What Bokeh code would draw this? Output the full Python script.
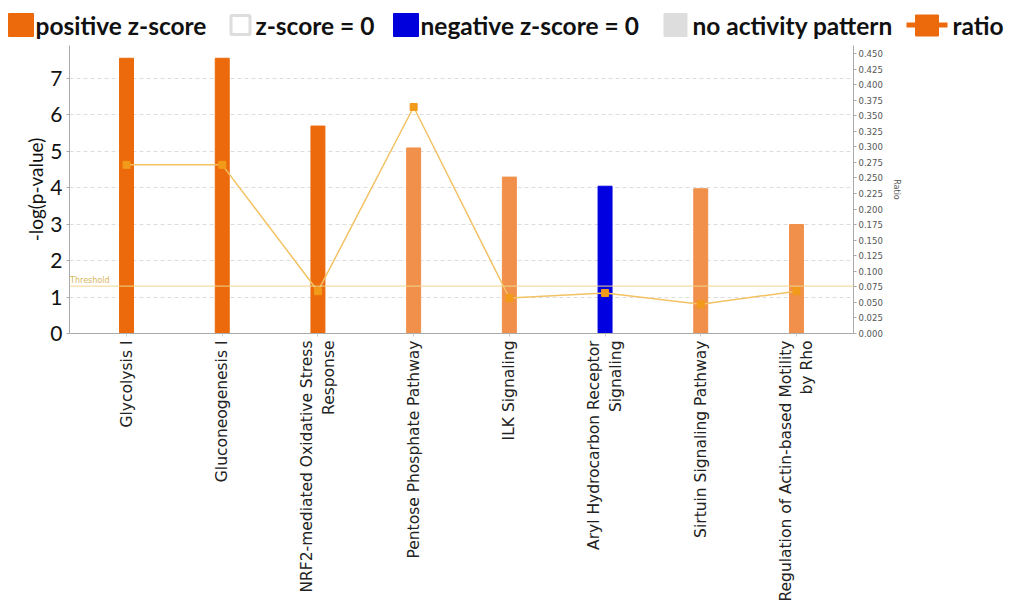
import numpy as np
from bokeh.plotting import figure
from bokeh.models import (Range1d, LinearAxis, FixedTicker, Span, Label,
                          ColumnDataSource, NumeralTickFormatter)
from bokeh.layouts import column
from bokeh.embed import file_html
from bokeh.resources import INLINE
from bokeh.core.properties import value

# ---------------- data ----------------
pathways = [
    "Glycolysis I",
    "Gluconeogenesis I",
    "NRF2-mediated Oxidative Stress\nResponse",
    "Pentose Phosphate Pathway",
    "ILK Signaling",
    "Aryl Hydrocarbon Receptor\nSignaling",
    "Sirtuin Signaling Pathway",
    "Regulation of Actin-based Motility\nby Rho",
]
neg_log_p = [7.55, 7.55, 5.69, 5.09, 4.29, 4.04, 3.97, 2.99]
ratio = [0.271, 0.271, 0.068, 0.364, 0.057, 0.065, 0.047, 0.068]
z_class = ["positive", "positive", "positive", "positive_low",
           "positive_low", "negative", "positive_low", "positive_low"]
threshold = 1.3
left_ticks = [0, 1, 2, 3, 4, 5, 6, 7]
grid_ticks = [1, 2, 3, 4, 5, 6, 7]
ratio_ticks = [0.000, 0.025, 0.050, 0.075, 0.100, 0.125, 0.150, 0.175, 0.200,
               0.225, 0.250, 0.275, 0.300, 0.325, 0.350, 0.375, 0.400, 0.425, 0.450]
legend_labels = ["positive z-score", "z-score = 0", "negative z-score = 0",
                 "no activity pattern", "ratio"]

# ---------------- styles ----------------
class_colors = {"positive": "#EC6A0C", "positive_low": "#F0904A", "negative": "#0000E0"}
bar_colors = [class_colors[c] for c in z_class]
xs = list(range(len(pathways)))
W = 1013

# ---------------- legend strip ----------------
leg = figure(width=W, height=40, x_range=Range1d(0, W), y_range=Range1d(40, 0),
             output_backend="svg", toolbar_location=None, min_border=0)
leg.frame_align = False
leg.axis.visible = False
leg.grid.visible = False
leg.outline_line_color = None

sw_x = [20.5, 240, 405.5, 675]
sw_fill = ["#EC6A0C", "#FFFFFF", "#0000DD", "#DDDDDD"]
sw_line = ["#EC6A0C", "#DDDDDD", "#0000DD", "#DDDDDD"]
leg.rect(x=sw_x, y=[24.5] * 4, width=[25, 19, 25, 23], height=[23, 19, 23, 23],
         fill_color=sw_fill, line_color=sw_line, line_width=[1, 3, 1, 1])
leg.line(x=[906, 947], y=[24.5, 24.5], line_color="#EC6A0C", line_width=5)
leg.rect(x=[926.5], y=[25], width=[23], height=[21], fill_color="#EC6A0C", line_color="#EC6A0C")
tx = [35, 255, 420, 692, 952]
leg.text(x=tx, y=[25] * 5, text=legend_labels, text_font=value("Lato"),
         text_font_style="bold", text_font_size="24.5px", text_baseline="middle",
         text_color="#111111")

# ---------------- main chart ----------------
p = figure(width=W, height=576, x_range=Range1d(-0.596, 7.596), y_range=Range1d(0, 7.9),
           output_backend="svg", toolbar_location=None,
           min_border_left=69, min_border_right=W - 853, min_border_top=5, min_border_bottom=283)
p.frame_align = False
p.extra_y_ranges = {"ratio": Range1d(0, 0.4628)}
p.outline_line_color = None
p.background_fill_color = "white"

src = ColumnDataSource(dict(x=xs, top=neg_log_p, color=bar_colors, ratio=ratio))
p.vbar(x="x", top="top", width=0.146, fill_color="color", line_color="color", source=src)

p.add_layout(Span(location=threshold, dimension="width", line_color="#EFD58A", line_width=1))
p.add_layout(Label(x=-0.59, y=threshold, y_offset=1, text="Threshold", text_font_size="8px",
                   text_color="#D8B55A", text_font="DejaVu Sans"))

p.line(x="x", y="ratio", source=src, y_range_name="ratio", line_color="#F2C263", line_width=1.5)
p.scatter(x="x", y="ratio", source=src, y_range_name="ratio", marker="square", size=7,
          fill_color="#F29A1A", line_color="#F29A1A")

# grid
p.xgrid.visible = False
p.ygrid.ticker = FixedTicker(ticks=grid_ticks)
p.ygrid.grid_line_color = "#DDDDDD"
p.ygrid.grid_line_dash = "4 3"

# left axis
ya = p.yaxis[0]
ya.ticker = FixedTicker(ticks=left_ticks)
ya.axis_label = "-log(p-value)"
ya.axis_label_text_font = "Lato"
ya.axis_label_text_font_style = "normal"
ya.axis_label_text_font_size = "19px"
ya.axis_label_text_color = "#111111"
ya.major_label_text_font = "Lato"
ya.major_label_text_font_size = "21px"
ya.major_label_text_color = "#111111"
ya.axis_line_color = "#AAAAAA"
ya.major_tick_line_color = "#AAAAAA"
ya.major_tick_out = 3
ya.major_tick_in = 0
ya.minor_tick_line_color = None
ya.major_label_standoff = 4
ya.axis_label_standoff = 0

# bottom axis
xa = p.xaxis[0]
xa.ticker = FixedTicker(ticks=xs)
xa.major_label_overrides = {i: lab for i, lab in zip(xs, pathways)}
xa.major_label_orientation = np.pi / 2
xa.major_label_text_font = "DejaVu Sans"
xa.major_label_text_font_size = "15.5px"
xa.major_label_text_color = "#222222"
xa.axis_line_color = "#AAAAAA"
xa.major_tick_line_color = "#CCCCCC"
xa.major_tick_out = 3
xa.major_tick_in = 0
xa.minor_tick_line_color = None
xa.major_label_standoff = 4

# right axis
ra = LinearAxis(y_range_name="ratio", ticker=FixedTicker(ticks=ratio_ticks),
                formatter=NumeralTickFormatter(format="0.000"))
ra.axis_label = "Ratio"
ra.axis_label_text_font = "DejaVu Sans"
ra.axis_label_text_font_style = "normal"
ra.axis_label_text_font_size = "8px"
ra.axis_label_text_color = "#555555"
ra.major_label_text_font = "DejaVu Sans"
ra.major_label_text_font_size = "8.5px"
ra.major_label_text_color = "#555555"
ra.axis_line_color = "#AAAAAA"
ra.major_tick_line_color = "#AAAAAA"
ra.major_tick_out = 3
ra.major_tick_in = 0
ra.minor_tick_line_color = None
ra.major_label_standoff = 2
ra.axis_label_standoff = 6
p.add_layout(ra, "right")

layout = column(leg, p, spacing=0)
open("out.html", "w").write(file_html(layout, INLINE))
